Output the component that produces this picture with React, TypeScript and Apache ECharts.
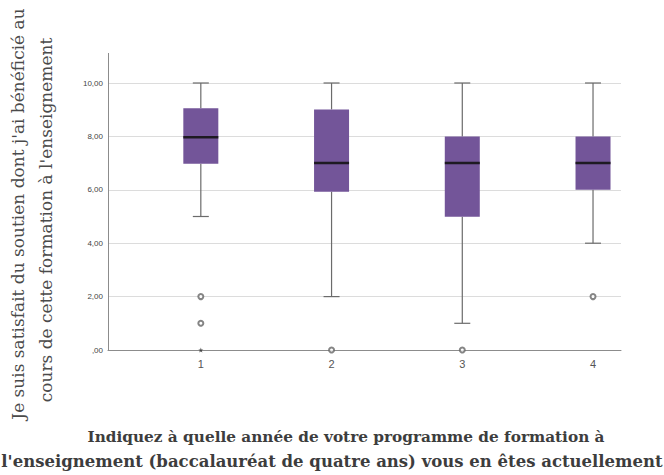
import React, { useEffect, useRef } from "react";
import * as echarts from "echarts";

const categories = [1, 2, 3, 4];
const whiskerLow = [5, 2, 1, 4];
const quartile1 = [6.98, 5.93, 4.99, 6];
const medians = [7.97, 7, 7, 7];
const quartile3 = [9.05, 9.01, 8, 8];
const whiskerHigh = [10, 10, 10, 10];
const outliers: [number, number][] = [
  [1, 2],
  [1, 1],
  [2, 0],
  [3, 0],
  [4, 2],
];
const extremes: [number, number][] = [[1, 0]];

const yTitle1 = "Je suis satisfait du soutien dont j'ai bénéficié au";
const yTitle2 = "cours de cette formation à l'enseignement";
const xTitle1 = "Indiquez à quelle année de votre programme de formation à";
const xTitle2 = "l'enseignement (baccalauréat de quatre ans) vous en êtes actuellement";

export default function App() {
  const ref = useRef<HTMLDivElement>(null);
  useEffect(() => {
    if (!ref.current) return;
    const chart = echarts.init(ref.current, undefined, { renderer: "svg" });
    const boxData = categories.map((c, i) => [
      c,
      whiskerLow[i],
      quartile1[i],
      medians[i],
      quartile3[i],
      whiskerHigh[i],
    ]);
    const serif = "DejaVu Serif";
    chart.setOption({
      animation: false,
      backgroundColor: "#ffffff",
      grid: { left: 108, right: 43, top: 83, bottom: 125, containLabel: false },
      xAxis: {
        type: "value",
        min: 0.29,
        max: 4.214,
        axisLine: { show: true, lineStyle: { color: "#8c8c8c", width: 1 } },
        axisTick: { show: false },
        splitLine: { show: false },
        axisLabel: {
          customValues: categories,
          color: "#555555",
          fontSize: 11,
          fontFamily: "Arial, Liberation Sans",
          margin: 8,
          formatter: (v: number) => String(v),
        },
      },
      yAxis: {
        type: "value",
        min: 0,
        max: 10,
        interval: 2,
        axisLine: { show: true, lineStyle: { color: "#8c8c8c", width: 1 } },
        axisTick: { show: false },
        splitLine: { show: true, lineStyle: { color: "#dcdcdc", width: 1 } },
        axisLabel: {
          color: "#444444",
          fontSize: 8,
          fontFamily: "Arial, Liberation Sans",
          margin: 5,
          formatter: (v: number) =>
            v === 0 ? ",00" : v.toFixed(2).replace(".", ","),
        },
      },
      series: [
        {
          type: "custom",
          data: boxData,
          encode: { x: 0, y: [1, 2, 3, 4, 5] },
          renderItem: (params: any, api: any) => {
            const x = api.value(0);
            const pLo = api.coord([x, api.value(1)]);
            const pQ1 = api.coord([x, api.value(2)]);
            const pMed = api.coord([x, api.value(3)]);
            const pQ3 = api.coord([x, api.value(4)]);
            const pHi = api.coord([x, api.value(5)]);
            const hw = 17.5;
            const cw = 8;
            const cx = pLo[0];
            const ws = { stroke: "#6b6b6b", lineWidth: 1.2 };
            return {
              type: "group",
              children: [
                { type: "line", shape: { x1: cx, y1: pLo[1], x2: cx, y2: pQ1[1] }, style: ws },
                { type: "line", shape: { x1: cx, y1: pQ3[1], x2: cx, y2: pHi[1] }, style: ws },
                { type: "line", shape: { x1: cx - cw, y1: pLo[1], x2: cx + cw, y2: pLo[1] }, style: ws },
                { type: "line", shape: { x1: cx - cw, y1: pHi[1], x2: cx + cw, y2: pHi[1] }, style: ws },
                {
                  type: "rect",
                  shape: { x: cx - hw, y: pQ3[1], width: hw * 2, height: pQ1[1] - pQ3[1] },
                  style: { fill: "#735599", stroke: null },
                },
                {
                  type: "line",
                  shape: { x1: cx - hw, y1: pMed[1], x2: cx + hw, y2: pMed[1] },
                  style: { stroke: "#1e1a22", lineWidth: 2.5 },
                },
              ],
            };
          },
          z: 3,
        },
        {
          type: "scatter",
          data: outliers,
          symbol: "emptyCircle",
          symbolSize: 5,
          itemStyle: { color: "#666666", borderColor: "#666666", borderWidth: 1 },
          z: 4,
        },
        {
          type: "scatter",
          data: extremes,
          symbol: "path://M0,-5 L1.2,-1.6 L4.8,-1.6 L1.9,0.6 L3,4 L0,2 L-3,4 L-1.9,0.6 L-4.8,-1.6 L-1.2,-1.6 Z",
          symbolSize: 5,
          itemStyle: { color: "#333333" },
          z: 4,
        },
      ],
      graphic: [
        {
          type: "line",
          shape: { x1: 108.5, y1: 53, x2: 108.5, y2: 83 },
          style: { stroke: "#8c8c8c", lineWidth: 1 },
          silent: true,
        },
        {
          type: "text",
          x: 18,
          y: 214,
          rotation: Math.PI / 2,
          style: {
            text: yTitle1,
            fontFamily: serif,
            fontSize: 17,
            fill: "#4a4a4a",
            align: "center",
            verticalAlign: "middle",
          },
        },
        {
          type: "text",
          x: 46,
          y: 220,
          rotation: Math.PI / 2,
          style: {
            text: yTitle2,
            fontFamily: serif,
            fontSize: 17,
            fill: "#4a4a4a",
            align: "center",
            verticalAlign: "middle",
          },
        },
        {
          type: "text",
          x: 346,
          y: 437,
          style: {
            text: xTitle1,
            fontFamily: serif,
            fontSize: 15.3,
            fontWeight: "bold",
            fill: "#3d3d3d",
            align: "center",
            verticalAlign: "middle",
          },
        },
        {
          type: "text",
          x: 332,
          y: 461,
          style: {
            text: xTitle2,
            fontFamily: serif,
            fontSize: 16.5,
            fontWeight: "bold",
            fill: "#3d3d3d",
            align: "center",
            verticalAlign: "middle",
          },
        },
      ],
    });
    return () => chart.dispose();
  }, []);
  return <div ref={ref} style={{ width: 664, height: 475, position: "absolute", left: 0, top: 0 }} />;
}
